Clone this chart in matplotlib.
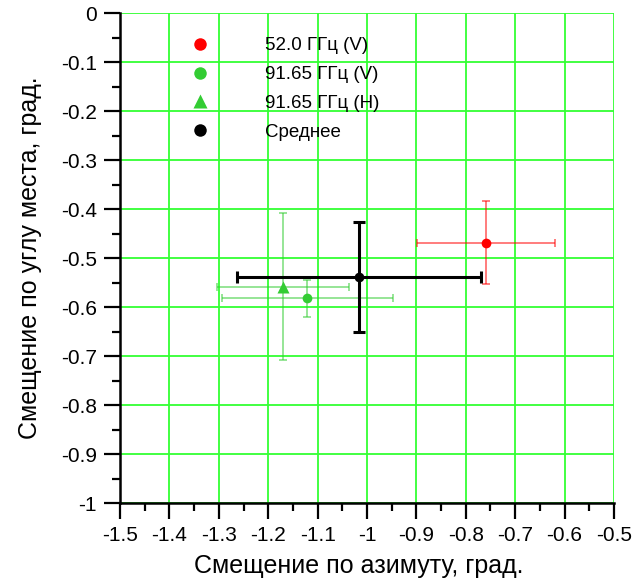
import numpy as np
import matplotlib
matplotlib.use('Agg')
import matplotlib.pyplot as plt
from matplotlib.lines import Line2D
from matplotlib.ticker import MultipleLocator, FuncFormatter

plt.rcParams['font.family'] = ['Liberation Sans', 'DejaVu Sans']
plt.rcParams['axes.unicode_minus'] = False

labels = ['52.0 ГГц (V)', '91.65 ГГц (V)', '91.65 ГГц (H)', 'Среднее']
az = [-0.759, -1.121, -1.170, -1.016]
el = [-0.469, -0.582, -0.559, -0.539]
az_err = [0.140, 0.173, 0.133, 0.247]
el_err = [0.085, 0.038, 0.150, 0.113]
colors = ['#ff0000', '#33cc33', '#33cc33', '#000000']
markers = ['o', 'o', '^', 'o']

fig = plt.figure(figsize=(6.36, 5.83), dpi=100)
ax = fig.add_axes([0.1887, 0.1372, 0.7767, 0.8405])

for i in range(len(labels)):
    black = colors[i] == '#000000'
    ax.errorbar(az[i], el[i], xerr=az_err[i], yerr=el_err[i], fmt='none',
                ecolor=colors[i], elinewidth=2.2 if black else 1.2,
                capsize=4 if black else 3, capthick=2.2 if black else 1.2,
                alpha=1.0 if black else 0.6, zorder=3)
    ax.plot(az[i], el[i], markers[i], color=colors[i], ms=8 if markers[i] == '^' else 7,
            mec='none', zorder=4)

ax.set_xlim(-1.5, -0.5)
ax.set_ylim(-1, 0)
ax.xaxis.set_major_locator(MultipleLocator(0.1))
ax.xaxis.set_minor_locator(MultipleLocator(0.05))
ax.yaxis.set_major_locator(MultipleLocator(0.1))
ax.yaxis.set_minor_locator(MultipleLocator(0.05))
fmt = FuncFormatter(lambda v, p: ('%.2f' % v).rstrip('0').rstrip('.') if abs(v) > 1e-9 else '0')
ax.xaxis.set_major_formatter(fmt)
ax.yaxis.set_major_formatter(fmt)
ax.tick_params(which='major', direction='out', length=11.5, width=1.6, labelsize=15, pad=5)
ax.tick_params(which='minor', direction='out', length=6, width=1.6)
ax.grid(True, which='major', color='#33ff33', lw=1.3)
for s in ('top', 'right'):
    ax.spines[s].set_visible(False)
for s in ('left', 'bottom'):
    ax.spines[s].set_linewidth(1.8)
ax.set_axisbelow(True)

ax.set_xlabel('Смещение по азимуту, град.', fontsize=18)
ax.xaxis.set_label_coords(0.483, -0.104)
ax.set_ylabel('Смещение по углу места, град.', fontsize=18, labelpad=14)

handles = [Line2D([], [], ls='none', marker=markers[i], color=colors[i],
                  ms=10 if markers[i] == '^' else 9, mec='none') for i in range(len(labels))]
ax.legend(handles, labels, loc='upper left', bbox_to_anchor=(0.1235, 0.951), frameon=False,
          fontsize=13.5, handlelength=2, handletextpad=2.47, labelspacing=0.63,
          borderpad=0, borderaxespad=0)

fig.savefig('out.png', dpi=100)
